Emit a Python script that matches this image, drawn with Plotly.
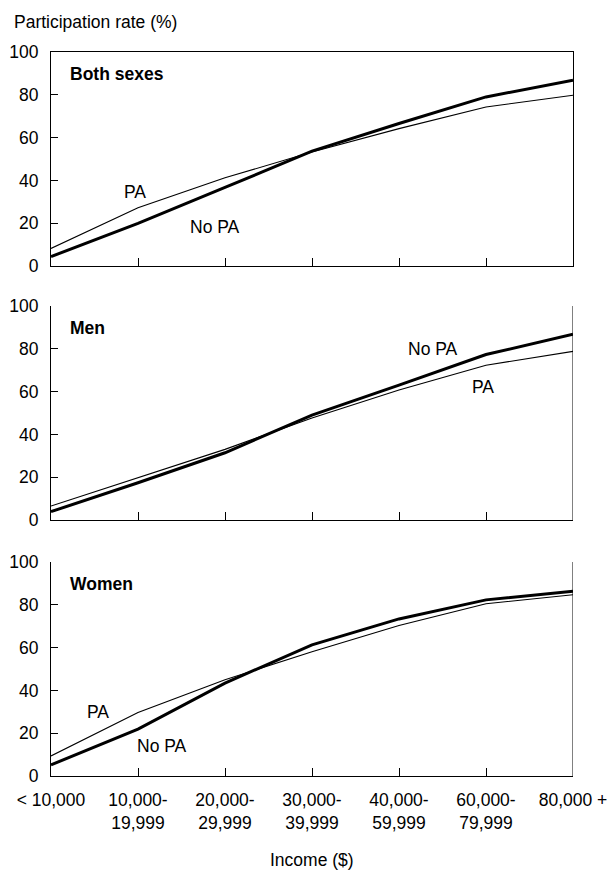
import plotly.graph_objects as go

categories = ["< 10,000", "10,000-<br>19,999", "20,000-<br>29,999", "30,000-<br>39,999",
              "40,000-<br>59,999", "60,000-<br>79,999", "80,000 +"]
x_pos = list(range(len(categories)))

both_no_pa = [4.4, 19.9, 36.7, 53.7, 66.6, 79.0, 86.8]
both_pa = [8.2, 27.2, 41.2, 53.3, 64.2, 74.3, 79.8]
men_no_pa = [3.9, 17.4, 31.4, 49.0, 63.0, 77.3, 86.8]
men_pa = [6.5, 19.9, 33.0, 47.7, 60.7, 72.3, 78.8]
women_no_pa = [5.2, 21.9, 43.4, 61.3, 73.4, 82.3, 86.3]
women_pa = [9.4, 29.7, 45.0, 58.1, 70.3, 80.5, 84.7]

y_ticks = [0, 20, 40, 60, 80, 100]
panel_titles = ["Both sexes", "Men", "Women"]

FONT = "Liberation Sans, Arial, sans-serif"
FS = 17.5

fig = go.Figure()

panels = [
    ("x", "y", both_no_pa, both_pa),
    ("x2", "y2", men_no_pa, men_pa),
    ("x3", "y3", women_no_pa, women_pa),
]
for xa, ya, nopa, pa in panels:
    fig.add_trace(go.Scatter(x=x_pos, y=pa, mode="lines", xaxis=xa, yaxis=ya,
                             line=dict(color="black", width=1.1), showlegend=False,
                             hoverinfo="skip"))
    fig.add_trace(go.Scatter(x=x_pos, y=nopa, mode="lines", xaxis=xa, yaxis=ya,
                             line=dict(color="black", width=3), showlegend=False,
                             hoverinfo="skip"))

domains = [[0.7044, 1.0], [0.3536, 0.6492], [0.0, 0.2956]]
axis_common_x = dict(range=[0, 6], tickmode="array", tickvals=x_pos,
                     ticks="inside", ticklen=8, tickcolor="black", tickwidth=1,
                     showline=True, linecolor="black", linewidth=1,
                     showgrid=False, zeroline=False, fixedrange=True,
                     automargin=False)
axis_common_y = dict(range=[0, 100], tickmode="array", tickvals=y_ticks,
                     ticks="inside", ticklen=7, tickcolor="black", tickwidth=1,
                     showline=True, linecolor="black", linewidth=1,
                     showgrid=False, zeroline=False, automargin=False,
                     ticklabelstandoff=8,
                     tickfont=dict(family=FONT, size=FS, color="black"))

layout = dict(
    width=611, height=871,
    margin=dict(l=51, r=38, t=52, b=95),
    paper_bgcolor="white", plot_bgcolor="white",
    font=dict(family=FONT, size=FS, color="black"),
)
for i, (dom, name) in enumerate(zip(domains, ["", "2", "3"])):
    xa = dict(axis_common_x)
    ya = dict(axis_common_y)
    ya["domain"] = dom
    xa["anchor"] = "y" + name
    ya["anchor"] = "x" + name
    if i < 2:
        xa["showticklabels"] = False
    else:
        xa["ticktext"] = categories
        xa["ticklabelstandoff"] = 8
        xa["tickfont"] = dict(family=FONT, size=FS, color="black")
    if i == 0:
        xa["mirror"] = True
        ya["mirror"] = True
    if i > 0:
        xa["matches"] = "x"
    layout["xaxis" + name] = xa
    layout["yaxis" + name] = ya

fig.update_layout(**layout)

# right border lines for lower panels
for name in ["2", "3"]:
    fig.add_shape(type="line", xref="x" + name, yref="y" + name,
                  x0=6, x1=6, y0=0, y1=100, line=dict(color="black", width=1))

ann = []
# panel titles
for title, name in zip(panel_titles, ["", "2", "3"]):
    ann.append(dict(text="<b>" + title + "</b>", xref="x" + name, yref="y" + name,
                    x=0.2, y=89.5, xanchor="left", yanchor="middle", showarrow=False,
                    font=dict(family=FONT, size=FS, color="black")))
# series labels
labels = [
    ("PA", "", 0.97, 34.5), ("No PA", "", 1.88, 18.3),
    ("No PA", "2", 4.39, 80.0), ("PA", "2", 4.97, 62.2),
    ("PA", "3", 0.54, 29.7), ("No PA", "3", 1.28, 14.1),
]
for text, name, xv, yv in labels:
    ann.append(dict(text=text, xref="x" + name, yref="y" + name, x=xv, y=yv,
                    xanchor="center", yanchor="middle", showarrow=False,
                    font=dict(family=FONT, size=FS, color="black")))
ann.append(dict(text="Participation rate (%)", xref="paper", yref="paper",
                x=-0.075, y=1.0418, xanchor="left", yanchor="middle", showarrow=False,
                font=dict(family=FONT, size=FS, color="black")))
ann.append(dict(text="Income ($)", xref="paper", yref="paper",
                x=0.5, y=-0.116, xanchor="center", yanchor="middle", showarrow=False,
                font=dict(family=FONT, size=FS, color="black")))
fig.update_layout(annotations=ann)

fig.write_html("out.html")
